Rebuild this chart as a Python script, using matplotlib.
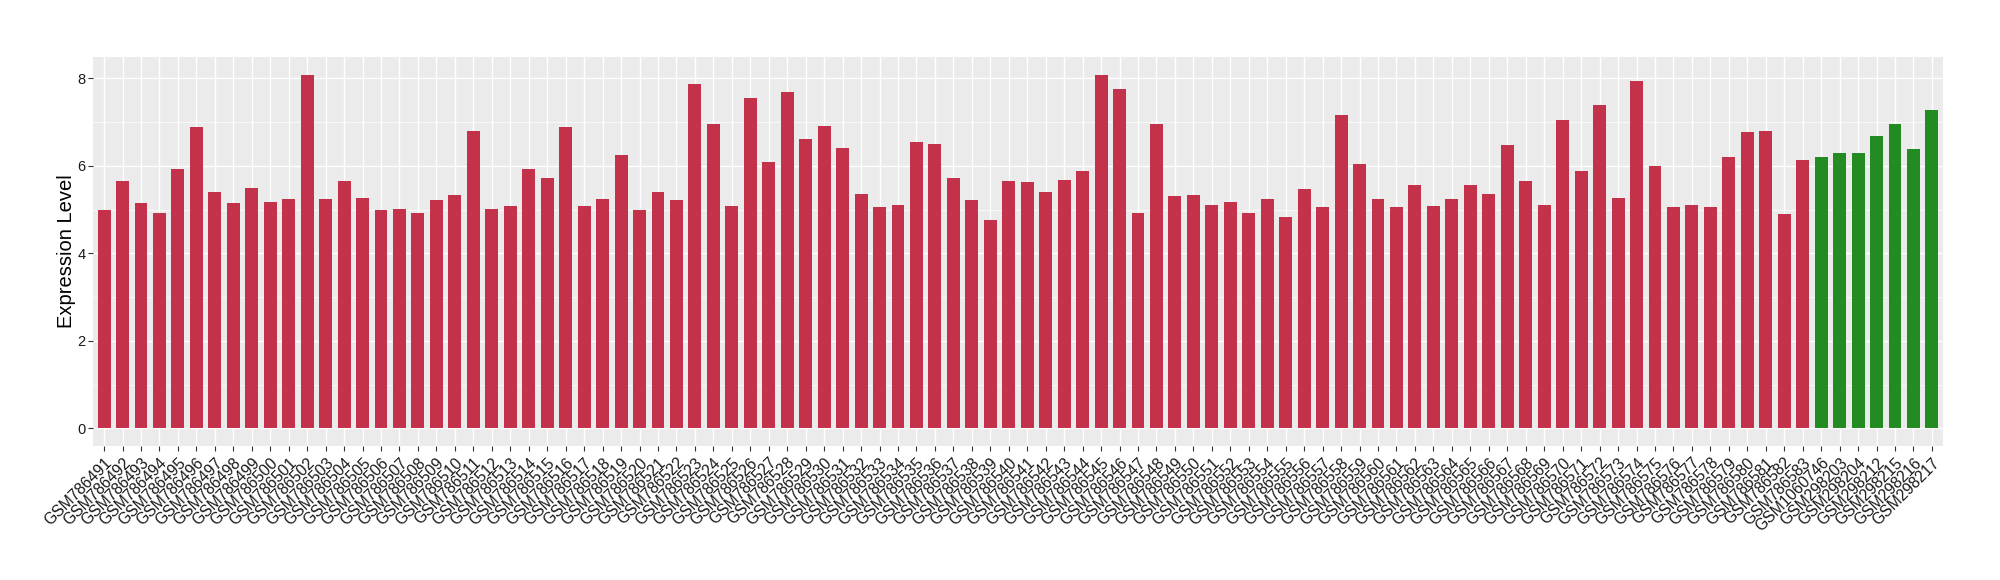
import matplotlib
matplotlib.use("Agg")
import matplotlib.pyplot as plt
import matplotlib.transforms as mtransforms
import numpy as np

# sample names (GSM786491 .. GSM786583, then the green group)
red_samples = ["GSM%d" % n for n in range(786491, 786584)]
green_samples = ["GSM1060746", "GSM298203", "GSM298204", "GSM298212",
                 "GSM298215", "GSM298216", "GSM298217"]

red_values = [
    4.98, 5.66, 5.14, 4.93, 5.93, 6.89, 5.41, 5.14, 5.48, 5.18,
    5.23, 8.08, 5.25, 5.64, 5.27, 4.98, 5.02, 4.93, 5.21, 5.32,
    6.80, 5.02, 5.09, 5.93, 5.73, 6.89, 5.09, 5.25, 6.25, 5.00,
    5.41, 5.21, 7.87, 6.96, 5.09, 7.55, 6.09, 7.69, 6.60, 6.91,
    6.41, 5.36, 5.05, 5.11, 6.55, 6.50, 5.73, 5.21, 4.75, 5.66,
    5.62, 5.39, 5.68, 5.87, 8.08, 7.76, 4.91, 6.96, 5.30, 5.32,
    5.11, 5.16, 4.93, 5.23, 4.84, 5.46, 5.05, 7.17, 6.03, 5.25,
    5.05, 5.55, 5.07, 5.23, 5.57, 5.36, 6.48, 5.64, 5.11, 7.05,
    5.87, 7.39, 5.27, 7.94, 6.00, 5.05, 5.11, 5.05, 6.19, 6.76,
    6.80, 4.89, 6.14,
]
green_values = [6.19, 6.30, 6.30, 6.69, 6.96, 6.39, 7.28]

red_color = "#C3314A"
green_color = "#228B22"

labels = red_samples + green_samples
values = red_values + green_values
colors = [red_color] * len(red_values) + [green_color] * len(green_values)

plt.rcParams["font.family"] = ["Liberation Sans", "DejaVu Sans"]

fig = plt.figure(figsize=(20, 5.8), dpi=100)
ax = fig.add_axes([0.0465, 0.231, 0.925, 0.6707])

x = np.arange(len(values))
ax.set_facecolor("#EBEBEB")
ax.bar(x, values, width=0.7, color=colors, zorder=3)

ymax = max(values)
ax.set_xlim(-0.6, len(values) - 0.4)
ax.set_ylim(-0.05 * ymax, ymax * 1.05)

ax.set_yticks([0, 2, 4, 6, 8])
ax.set_yticks([1, 3, 5, 7], minor=True)
ax.set_xticks(x)
ax.set_xticklabels(labels, rotation=45, ha="right", va="top",
                   rotation_mode="anchor", fontsize=11.3, color="#1A1A1A")
# shift labels a bit right/down like ggplot's hjust=1, vjust=1
offset = mtransforms.ScaledTranslation(6 / 100, -2 / 100, fig.dpi_scale_trans)
for lbl in ax.get_xticklabels():
    lbl.set_transform(lbl.get_transform() + offset)

ax.tick_params(axis="y", labelsize=10.5, labelcolor="#1A1A1A", pad=2)
ax.tick_params(axis="both", which="major", length=3.5, width=0.8, color="#333333")
ax.tick_params(axis="x", pad=3)
ax.tick_params(axis="y", which="minor", length=0)

ax.grid(True, which="major", color="white", linewidth=1.0, zorder=0)
ax.grid(True, which="minor", axis="y", color="white", linewidth=0.5, zorder=0)
ax.set_axisbelow(True)
for s in ax.spines.values():
    s.set_visible(False)

ax.set_ylabel("Expression Level", fontsize=14.5, color="black", labelpad=1)

fig.savefig("out.png", dpi=100)
